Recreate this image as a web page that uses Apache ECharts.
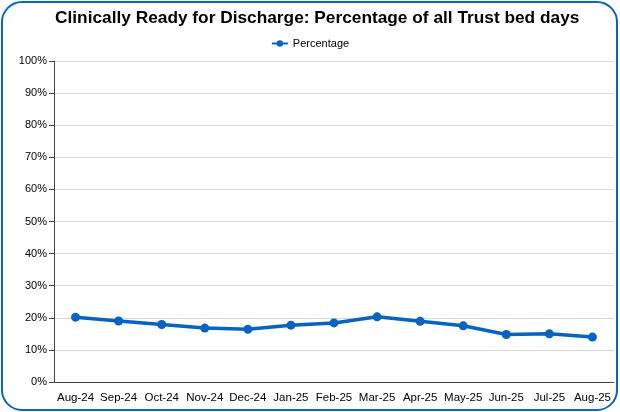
<!DOCTYPE html>
<html><head><meta charset="utf-8">
<script src="https://cdn.jsdelivr.net/npm/echarts@6/dist/echarts.min.js"></script>
<style>html,body{margin:0;padding:0;background:#fff}#c{width:620px;height:412px}</style>
</head><body><div id="c"></div>
<script>
const categories = ['Aug-24','Sep-24','Oct-24','Nov-24','Dec-24','Jan-25','Feb-25','Mar-25','Apr-25','May-25','Jun-25','Jul-25','Aug-25'];
const percentage = [20.2, 19.0, 17.9, 16.8, 16.4, 17.7, 18.4, 20.3, 18.9, 17.5, 14.8, 15.0, 14.0];
const seriesName = 'Percentage';
const titleText = 'Clinically Ready for Discharge: Percentage of all Trust bed days';

const chart = echarts.init(document.getElementById('c'), null, {renderer:'canvas'});
const font = 'Liberation Sans, Arial, sans-serif';
chart.setOption({
  animation: false,
  textStyle: {fontFamily: font},
  graphic: [{
    type: 'rect', silent: true, z: 100,
    shape: {x: 2, y: 2, width: 615, height: 408, r: 20},
    style: {fill: 'none', stroke: '#0b63c4', lineWidth: 2}
  }],
  title: {
    text: titleText, left: 50, top: 5,
    textStyle: {fontFamily: font, fontSize: 17.3, fontWeight: 'bold', color: '#000'}
  },
  legend: {
    data: [seriesName], top: 33, left: 'center',
    itemWidth: 16, itemHeight: 8, itemGap: 5,
    textStyle: {fontFamily: font, fontSize: 11, color: '#000'}
  },
  grid: {left: 54, right: 6, top: 61, bottom: 30, containLabel: false},
  xAxis: {
    type: 'category', data: categories, boundaryGap: true,
    axisLine: {lineStyle: {color: '#444', width: 1}},
    axisTick: {alignWithLabel: true, length: 5, lineStyle: {color: '#444'}},
    axisLabel: {fontFamily: font, fontSize: 11.5, color: '#000', margin: 10, interval: 0}
  },
  yAxis: {
    type: 'value', min: 0, max: 100, interval: 10,
    axisLine: {show: true, lineStyle: {color: '#444', width: 1}},
    axisTick: {show: true, length: 5, lineStyle: {color: '#444'}},
    axisLabel: {fontFamily: font, fontSize: 11, color: '#000', margin: 7, formatter: '{value}%'},
    splitLine: {lineStyle: {color: '#d9d9d9', width: 1}}
  },
  series: [{
    name: seriesName, type: 'line', data: percentage,
    symbol: 'circle', symbolSize: 9,
    lineStyle: {color: '#0563c1', width: 3.5},
    itemStyle: {color: '#0563c1'}
  }]
});
</script></body></html>
